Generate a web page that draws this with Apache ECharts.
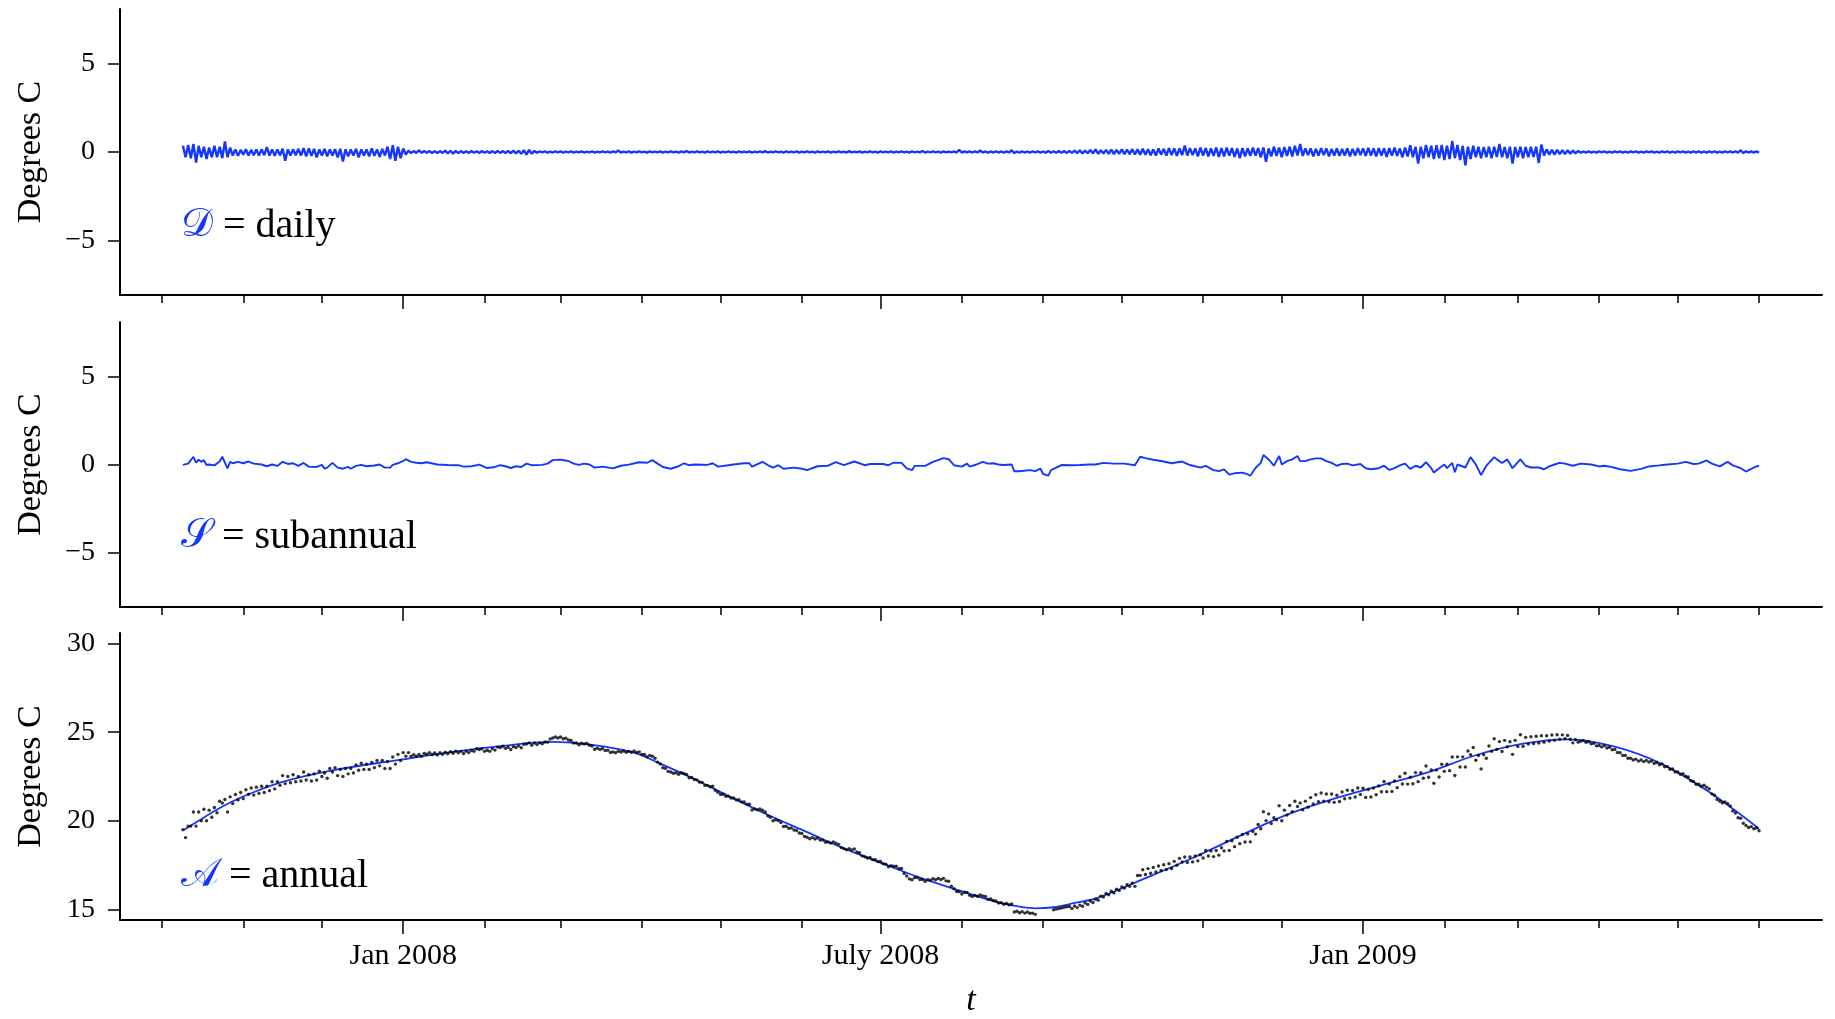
<!DOCTYPE html>
<html><head><meta charset="utf-8">
<script src="https://cdn.jsdelivr.net/npm/echarts@6/dist/echarts.min.js"></script>
<style>html,body{margin:0;padding:0;background:#fff}#c{width:1835px;height:1019px}</style>
</head><body><div id="c"></div>
<script>
// x unit: days since 1 Oct 2007
const FIRST_DAY = 8;
const monthTicks = [0,31,61,92,123,152,183,213,244,274,305,336,366,397,427,458,489,517,548,578,609];
const majorTicks = [92,274,458];
const majorLabels = ['Jan 2008','July 2008','Jan 2009'];
const devTicks = [-5,0,5];
const annTicks = [15,20,25,30];

// D = daily component, one value per day from FIRST_DAY
const dailyVals = [
.35,-.3,.4,-.35,.45,-.6,.35,-.3,.3,-.4,.25,-.3,.35,-.3,.3,-.35,.6,-.3,.25,
-.2,.15,-.22,.12,-.15,.16,-.2,.12,-.18,.14,-.2,.15,-.18,.28,-.2,.15,-.22,.14,-.18,.18,
-.5,.15,-.2,.15,-.18,.18,-.2,.22,-.25,.2,-.22,.18,-.3,.15,-.2,.18,-.25,.15,-.2,.16,
-.3,.18,-.54,.15,-.25,.14,-.2,.18,-.3,.15,-.2,.14,-.25,.2,-.22,.15,-.28,.18,-.2,
.3,-.4,.38,-.5,.3,-.35,.2,-.15,.08,-.06,.05,-.05,.1,-.05,.06,-.04,.05,-.05,.04,-.06,
.05,-.05,.08,-.08,.07,-.09,.06,-.06,.05,-.05,.04,-.05,.05,-.04,.04,-.05,.05,-.04,.04,-.05,
.05,-.06,.06,-.05,.05,-.06,.06,-.07,.08,-.08,.07,-.1,.1,-.15,.12,-.1,.06,-.04,
.03,-.02,.03,-.03,.02,-.03,.04,-.02,.03,-.03,.02,-.02,.03,-.03,.02,-.02,.03,-.03,.02,-.02,
.03,-.03,.02,-.02,.03,-.02,.02,-.03,.03,-.02,.08,-.03,.02,-.02,.03,-.03,.02,-.02,.03,-.02,
.02,-.03,.03,-.02,.02,-.02,.03,-.03,.02,-.02,.03,-.02,.02,-.03,.03,-.02,.06,-.03,.02,-.02,
.03,-.02,.02,-.03,.03,-.02,.02,-.02,.03,-.03,.02,-.02,.03,-.02,.02,-.03,.03,-.02,.02,-.02,
.03,-.03,.02,-.02,.03,-.02,.05,-.03,.02,-.02,.03,-.02,.02,-.03,.03,-.02,.02,-.02,.03,-.03,
.02,-.02,.03,-.02,.02,-.03,.03,-.02,.02,-.02,.03,-.03,.02,-.02,.03,-.02,.02,-.03,.05,-.02,
.02,-.02,.03,-.03,.02,-.02,.03,-.02,.02,-.03,.03,-.02,.02,-.02,.03,-.03,.02,-.02,.03,-.02,
.02,-.03,.03,-.02,.02,-.02,.06,-.03,.02,-.02,.03,-.02,.02,-.03,.03,-.02,.02,-.02,.03,-.03,
.12,-.03,.03,-.02,.03,-.03,.04,-.03,.08,-.03,.03,-.04,.03,-.03,.04,-.03,.03,-.04,.04,-.03,
.1,-.06,.03,-.04,.04,-.03,.03,-.04,.04,-.03,.04,-.04,.03,-.04,.06,-.04,.04,-.04,.05,-.04,.05,-.05,
.06,-.05,.08,-.06,.1,-.08,.08,-.07,.12,-.08,.15,-.1,.1,-.08,.12,-.1,.14,-.12,.12,-.1,.15,-.12,.14,-.12,.16,
-.14,.15,-.15,.18,-.15,.16,-.18,.15,-.2,.2,-.15,.18,-.2,.22,-.18,.2,-.22,.2,-.18,.36,
-.2,.22,-.18,.2,-.25,.25,-.2,.22,-.25,.2,-.22,.25,-.28,.22,
-.25,.25,-.2,.22,-.28,.2,-.35,.22,-.25,.2,-.22,.25,-.2,.22,-.3,.25,-.55,.2,-.25,.3,
-.22,.25,-.3,.28,-.22,.3,-.25,.35,
-.2,.45,-.22,.2,-.18,.2,-.25,.18,-.2,.22,-.18,.2,-.25,.18,-.2,.2,-.22,.18,-.2,.2,
-.25,.18,-.2,.22,-.18,.2,-.22,.24,-.2,.2,-.25,.22,-.2,.2,-.28,.22,-.2,.25,-.22,.2,-.3,.25,
-.25,.38,-.3,.3,-.66,.3,-.35,.4,-.3,.35,-.4,.38,-.35,.4,-.45,.35,-.4,.62,-.35,.4,
-.45,.35,-.75,.3,-.4,.35,-.3,.3,-.35,.28,
-.3,.3,-.35,.3,-.28,.46,-.3,.28,-.35,.3,-.66,.28,-.3,.3,-.35,.28,-.3,.3,-.28,.3,
-.62,.42,-.2,.15,-.15,.12,-.15,.12,-.12,.1,-.12,.1,-.1,.08,-.08,.06,
-.04,.03,-.03,.03,-.03,.02,-.03,.03,-.02,.03,-.03,.02,-.03,.03,-.02,.03,-.03,.02,-.03,.03,
-.02,.03,-.03,.02,-.03,.03,-.02,.03,-.03,.02,-.03,.03,-.02,.03,-.03,.02,-.03,.03,-.02,.03,
-.03,.02,-.03,.03,-.02,.03,-.03,.02,-.03,.03,-.02,.03,-.03,.02,-.03,.03,-.02,.03,-.03,.04,
-.04,.1,-.06,.04,-.03,.03,-.03,.03,-.03
];

// S = subannual component (day, value)
const subDays = [
8,10,12,13,14,15,16,17,18,20, 22,23,25,26,27,29,31,33,35,38, 40,42,44,46,48,50,52,54,56,59,
61,62,63,65,67,69,71,72,74,76, 78,81,83,85,87,88,90,92,93,95, 97,99,101,105,109,113,115,118,121,124,
127,129,131,133,135,137,139,141,145,147, 149,152,155,157,159,161,163,165,168,172, 175,178,182,185,187,189,191,194,197,199,
201,203,206,208,210,212,216,218,222,224, 225,229,231,233,235,237,241,244,246,250, 254,257,260,264,268,270,275,277,279,282,
284,286,287,291,294,298,300,302,305,307, 308,310,313,315,317,319,321,324,325,327, 331,333,335,336,338,339,343,347,350,354,
356,359,363,367,371,373,375,378,381,385, 389,392,396,398,401,403,405,407,409,412, 414,415,417,419,420,422,424,426,427,429,
431,433,434,436,438,440,442,444,446,448, 450,452,454,457,459,461,464,466,468,470, 472,474,476,478,480,482,484,485,487,489,
490,492,493,494,497,499,501,503,505,506, 508,509,511,513,515,518,520,522,525,527, 529,531,533,535,538,541,545,548,550,553,
556,560,564,567,571,574,578,581,584,586, 589,591,594,597,599,602,604,606,608,609
];
const subVals = [
-.02,.05,.44,.1,.27,.15,.25,-.03,0,-.05, .17,.44,-.22,.15,.07,.15,.07,.17,.05,0, -.1,0,-.08,.15,.03,.07,-.08,.09,-.12,-.14,
-.02,-.24,-.18,.09,-.18,-.24,-.14,-.24,-.08,-.02, -.1,-.06,0,-.18,-.18,-.02,.07,.2,.3,.15, .1,.07,.13,0,-.03,-.04,-.12,-.1,-.01,-.2,
-.14,-.04,-.1,-.2,-.1,-.14,.05,-.04,-.02,.05, .25,.28,.2,.05,-.02,.05,0,-.18,-.12,-.22, -.07,-.01,.13,.1,.25,.05,-.14,-.24,-.1,.07,
-.04,0,-.01,-.02,.07,-.12,-.04,0,.07,.07, -.12,.15,-.03,-.18,-.04,-.24,-.18,-.24,-.32,-.1, -.07,.13,-.04,.17,-.04,.03,.03,-.04,.1,.09,
-.22,-.32,-.08,-.08,.15,.36,.3,-.04,-.12,.05, -.12,-.03,.15,.05,.07,0,-.03,0,-.38,-.38, -.32,-.38,-.24,-.54,-.63,-.32,-.03,-.04,-.03,0,
0,.09,.05,.05,-.04,.44,.36,.27,.2,.07, .17,-.03,-.18,-.08,-.32,-.38,-.28,-.58,-.5,-.46, -.56,-.64,-.2,.09,.54,.29,-.07,.48,0,.19,
.29,.48,.19,.19,.29,.35,.35,.19,.09,-.07, .03,.05,-.05,.03,-.21,-.27,-.21,-.07,-.31,-.21, -.05,.05,-.25,-.07,-.17,.13,-.21,-.46,-.21,0,
-.21,.09,-.44,0,-.17,.42,0,-.6,-.07,.09, .42,.29,.09,.29,-.21,.29,-.07,-.17,-.17,-.27, -.11,0,.09,.05,-.07,.05,0,-.11,-.07,-.15,
-.27,-.36,-.25,-.11,-.05,0,.05,.15,.03,.05, .23,.05,-.11,.15,-.05,-.21,-.4,-.25,-.11,-.07
];

// A = annual fitted curve (day, value)
const annDays = [8,14,20,27,33,46,65,91,110,129,149,164,180,190,202,216,231,246,260,275,289,304,318,326,333,340,348,357,375,393,411,429,447,465,483,501,519,536,554,572,590,609];
const annVals = [19.45,20.0,20.55,21.1,21.5,22.2,22.85,23.45,23.88,24.22,24.45,24.28,23.85,23.23,22.43,21.4,20.34,19.36,18.44,17.58,16.79,16.07,15.42,15.18,15.06,15.12,15.36,15.66,16.76,17.9,19.15,20.35,21.25,22.0,22.75,23.7,24.35,24.6,24.18,23.2,21.62,19.55];

// observed temperatures (black dots), one per day from FIRST_DAY; null = no data
const obsVals = [
19.5,19.05,19.7,19.7,20.5,19.7,20.5,20.0,20.65,20.0,20.6,20.2,20.75,20.45,21.1,21.0,21.2,20.5,21.35,
20.97,21.48,21.18,21.6,21.25,21.75,21.5,21.85,21.45,21.9,21.55,21.95,21.6,21.95,21.7,22.2,21.8,22.2,22.0,22.55,
22.1,22.5,22.15,22.6,22.2,22.5,22.25,22.75,22.3,22.6,22.25,22.65,22.3,22.8,22.5,22.7,22.4,22.95,22.75,23.0,
22.55,22.9,22.5,22.95,22.65,22.95,22.7,23.15,22.85,23.25,22.9,23.2,22.9,23.3,23.0,23.4,23.1,23.4,22.95,
23.35,22.95,23.6,23.2,23.75,23.4,23.85,23.65,23.85,
23.64,23.73,23.64,23.74,23.65,23.8,23.76,23.85,23.74,23.83,23.72,23.84,23.75,23.87,23.78,23.9,23.81,23.93,23.84,23.92,
23.8,23.93,23.85,23.97,23.92,24.07,24.02,24.07,23.92,23.98,23.92,24.06,23.99,24.16,24.13,24.21,24.09,24.15,24.02,24.18,
24.14,24.23,24.12,24.32,24.33,24.4,24.27,24.39,24.3,
24.40,24.35,24.45,24.44,24.62,24.67,
24.73,24.67,24.73,24.63,24.66,24.56,24.53,24.39,24.39,24.29,24.38,24.34,24.37,24.26,24.22,
24.04,24.1,24.03,24.08,23.97,23.98,23.86,23.88,23.84,23.92,23.88,23.94,23.87,23.92,23.87,23.94,
23.86,23.89,23.75,23.74,23.61,23.69,23.64,23.53,23.31,23.21,
22.99,22.96,22.79,22.75,22.68,22.71,22.63,22.71,22.67,22.61,22.43,22.44,
22.33,22.31,22.18,22.16,22.0,22.0,21.92,21.95,21.72,21.61,21.49,21.5,21.38,21.39,
21.28,21.29,21.18,21.19,21.07,21.07,20.94,20.93,20.61,20.67,20.62,20.67,20.6,20.5,20.28,
20.2,20.0,20.06,20.01,19.9,19.68,19.69,19.58,19.59,19.48,19.45,19.31,19.28,19.12,19.07,
18.99,19.05,18.97,19.03,18.91,18.91,18.79,18.8,18.74,18.81,18.74,18.67,18.49,18.43,
18.36,18.43,18.36,18.41,18.24,18.2,18.02,17.97,17.9,17.93,17.81,17.81,17.7,17.7,17.58,
17.55,17.4,17.47,17.43,17.43,17.3,17.31,17.03,16.88,16.72,16.67,16.79,16.8,16.68,
16.69,16.58,16.68,16.64,16.73,16.67,16.74,16.69,16.75,16.61,16.59,16.31,16.16,16.01,16.0,
15.87,15.97,15.95,15.79,15.73,15.79,15.74,15.81,15.76,15.73,15.57,15.59,15.5,15.47,
15.36,15.38,15.29,15.34,15.26,15.31,14.85,14.89,14.81,14.87,14.79,14.85,14.78,14.79,14.72,
null,null,null,null,null,null,
14.98,15.02,15.05,15.08,15.12,15.15,
15.16,15.05,15.19,15.1,15.24,15.18,15.36,15.28,15.47,15.39,15.57,15.52,15.75,15.7,15.9,15.82,16.02,15.93,16.14,16.07,16.27,16.2,16.39,16.3,16.48,
16.3,16.91,16.92,17.24,16.97,17.3,17.04,17.37,17.11,17.45,17.19,17.52,17.25,17.58,17.31,17.71,17.49,17.88,17.67,17.96,
17.65,17.96,17.68,18.01,17.74,18.08,17.9,18.32,18.01,18.3,17.98,18.32,18.06,18.48,18.3,
18.84,18.32,18.87,18.54,19.07,18.71,19.23,18.8,19.26,18.81,19.4,19.25,19.79,19.55,20.51,20.01,20.39,19.84,20.17,20.06,20.85,20.0,20.6,20.32,
20.86,20.52,21.1,20.81,21.01,20.62,21.11,20.77,21.31,20.95,21.47,21.08,21.57,21.1,21.51,21.07,21.51,21.04,
21.44,21.09,21.63,21.24,21.73,21.28,21.71,21.34,21.85,21.48,21.84,21.32,21.77,21.34,21.85,21.47,21.97,21.64,
22.22,21.64,22.07,21.66,22.25,21.87,22.49,22.08,22.68,22.07,22.46,22.09,22.72,22.21,22.71,22.4,23.09,22.46,
22.87,22.12,22.86,22.47,23.19,22.79,23.19,22.83,23.6,22.56,23.61,23.04,23.61,23.04,23.94,23.73,24.14,23.42,
23.69,22.93,23.73,23.53,24.22,23.92,24.63,24.03,24.47,23.91,24.54,24.18,24.46,23.75,24.54,24.2,24.86,24.21,
24.71,24.33,24.74,24.36,24.77,24.39,24.8,24.44,24.8,24.5,24.84,24.55,24.86,24.6,24.85,24.64,24.82,24.6,24.4,24.58,24.44,
24.49,24.54,24.43,24.46,24.35,24.37,24.23,24.25,24.17,24.24,24.11,24.15,24.01,24.03,
23.86,23.84,23.69,23.69,23.53,23.53,23.43,23.48,23.37,23.43,23.34,23.41,23.32,23.37,23.24,23.29,23.16,23.21,
23.05,23.06,22.91,22.92,22.76,22.76,22.63,22.66,22.52,22.47,22.26,22.22,22.06,22.06,21.95,22.01,21.9,21.8,
21.52,21.44,21.2,21.11,21.01,21.07,20.97,20.84,20.55,20.44,20.17,20.14,19.86,19.73,19.62,19.67,19.55,19.59,19.44
];

const BLUE = '#1437ff';
const FONT = 'Liberation Serif';
const X_MIN = -16, X_MAX = 633;

const chart = echarts.init(document.getElementById('c'), null, {renderer:'canvas'});

const grids = [
  {left:120, right:13, top:9, height:286},
  {left:120, right:13, top:322, height:285},
  {left:120, right:13, top:633, height:287}
];

function xAxesFor(gi){
  const minor = {
    gridIndex: gi, type:'value', min:X_MIN, max:X_MAX, position:'bottom',
    axisLine:{show:true, onZero:false, lineStyle:{color:'#000', width:2}},
    axisTick:{show:true, customValues: monthTicks, length:8, lineStyle:{color:'#000', width:1.5}},
    axisLabel:{show:false}, splitLine:{show:false}
  };
  const major = {
    gridIndex: gi, type:'value', min:X_MIN, max:X_MAX, position:'bottom',
    axisLine:{show:false, onZero:false},
    axisTick:{show:true, customValues: majorTicks, length:14, lineStyle:{color:'#000', width:1.5}},
    axisLabel:{show: gi===2, customValues: majorTicks,
      formatter: v => majorLabels[majorTicks.indexOf(Math.round(v))] || '',
      fontFamily: FONT, fontSize: 30, color:'#000', margin: 21},
    splitLine:{show:false}
  };
  if (gi === 2) {
    major.name = 't';
    major.nameLocation = 'middle';
    major.nameGap = 64;
    major.nameTextStyle = {fontFamily: FONT, fontStyle:'italic', fontSize: 34, color:'#000'};
  }
  return [minor, major];
}

function yAxisFor(gi, min, max, ticks){
  return {
    gridIndex: gi, type:'value', min, max,
    axisLine:{show:true, onZero:false, lineStyle:{color:'#000', width:2}},
    axisTick:{show:true, customValues: ticks, length:12, lineStyle:{color:'#000', width:1.5}},
    axisLabel:{customValues: ticks, formatter: v => v < 0 ? '\u2212' + Math.abs(v) : String(v),
      fontFamily: FONT, fontSize: 28, color:'#000', margin: 25},
    splitLine:{show:false},
    name:'Degrees C', nameLocation:'middle', nameGap: 72, nameRotate: 90,
    nameTextStyle:{fontFamily: FONT, fontSize: 34, color:'#000'}
  };
}

const dailyData = dailyVals.map((v,i) => [FIRST_DAY + i, v]);
const subData = subDays.map((d,i) => [d, subVals[i]]);
const annData = annDays.map((d,i) => [d, annVals[i]]);
const obsData = obsVals.map((v,i) => v === null ? null : [FIRST_DAY + i, v]).filter(p => p !== null);

function label(y, sym, word){
  return {
    type:'text', x: 181, y: y, z: 100,
    style:{
      text: '{s|' + sym + '}{t| = ' + word + '}',
      verticalAlign:'middle', align:'left',
      rich:{
        s:{fontFamily:'DejaVu Serif, DejaVu Sans, ' + FONT, fontSize:40, fill: BLUE, color: BLUE},
        t:{fontFamily: FONT, fontSize:40, fill:'#000', color:'#000'}
      }
    }
  };
}

chart.setOption({
  animation:false,
  backgroundColor:'#fff',
  grid: grids,
  xAxis: [].concat(xAxesFor(0), xAxesFor(1), xAxesFor(2)),
  yAxis: [
    yAxisFor(0, -8.1, 8.1, devTicks),
    yAxisFor(1, -8.1, 8.1, devTicks),
    yAxisFor(2, 14.4, 30.6, annTicks)
  ],
  series: [
    {type:'line', name:'daily', xAxisIndex:0, yAxisIndex:0, data: dailyData, showSymbol:false,
      lineStyle:{color: BLUE, width:2.4}, itemStyle:{color: BLUE}},
    {type:'line', name:'subannual', xAxisIndex:2, yAxisIndex:1, data: subData, showSymbol:false,
      lineStyle:{color: BLUE, width:1.9}, itemStyle:{color: BLUE}},
    {type:'line', name:'annual', xAxisIndex:4, yAxisIndex:2, data: annData, showSymbol:false, smooth:0.35,
      lineStyle:{color: BLUE, width:1.8}, itemStyle:{color: BLUE}, z:2},
    {type:'scatter', name:'observed', xAxisIndex:4, yAxisIndex:2, data: obsData, symbolSize:3.4,
      itemStyle:{color:'#000'}, z:3}
  ],
  graphic: [
    label(226, '\uD835\uDC9F', 'daily'),
    label(537, '\uD835\uDCAE', 'subannual'),
    label(876, '\uD835\uDC9C', 'annual')
  ]
});
</script>
</body></html>
